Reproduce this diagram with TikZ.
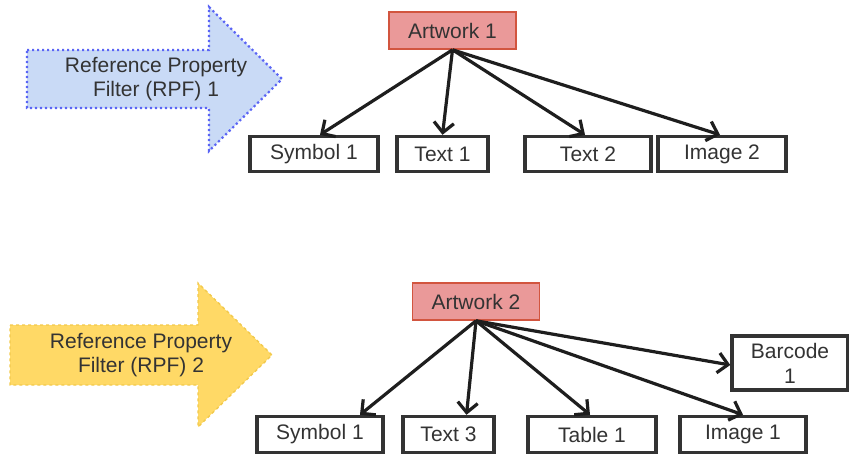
\documentclass[tikz,border=0pt]{standalone}
\usepackage{fontspec}
\setmainfont{Liberation Sans}
\usetikzlibrary{arrows.meta}
\definecolor{txt}{HTML}{333333}
\definecolor{artfill}{HTML}{EA9999}
\definecolor{artdraw}{HTML}{D2553F}
\definecolor{bluefill}{HTML}{C9DAF6}
\definecolor{bluedraw}{HTML}{5A64F5}
\definecolor{yelfill}{HTML}{FFD966}
\definecolor{yeldraw}{HTML}{F2C94C}
\definecolor{edge}{HTML}{1E1E1E}
\definecolor{boxdraw}{HTML}{333333}
\tikzset{
  lbl/.style={font=\fontsize{21}{24}\selectfont, text=txt, inner sep=0pt},
  leaf/.style={draw=boxdraw, line width=3.4pt, fill=white, minimum height=35pt, inner sep=0pt, font=\fontsize{21}{24}\selectfont, text=txt},
  art/.style={draw=artdraw, line width=1.6pt, fill=artfill, minimum width=127pt, minimum height=37pt, inner sep=0pt, font=\fontsize{21}{24}\selectfont, text=txt},
  conn/.style={draw=edge, line width=3.2pt, -{Straight Barb[length=10pt,width=20pt,line width=3.2pt]}}
}
\begin{document}
\begin{tikzpicture}[x=1pt,y=-1pt]
\useasboundingbox (0,0) rectangle (849,455);
% big arrows
\draw[fill=bluefill, draw=bluedraw, line width=2.2pt, dash pattern=on 2.2pt off 2.8pt] (27,50) -- (209,50) -- (209,7) -- (282,79) -- (209,151) -- (209,108) -- (27,108) -- cycle;
\node[lbl, align=center] (rpf1) at (156,79) {Reference Property\\Filter (RPF) 1};
\draw[fill=yelfill, draw=yeldraw, line width=1.4pt, dashed] (10,325) -- (198,325) -- (198,283) -- (272,355) -- (198,427) -- (198,385) -- (10,385) -- cycle;
\node[lbl, align=center] (rpf2) at (141,355) {Reference Property\\Filter (RPF) 2};
% row 1
\node[art] (a1) at (452.5,30.5) {Artwork 1};
\node[leaf, minimum width=128pt] (s1) at (314,154) {Symbol 1};
\node[leaf, minimum width=91pt] (t1) at (442.5,154) {Text 1};
\node[leaf, minimum width=126pt] (t2) at (588,154) {Text 2};
\node[leaf, minimum width=128pt] (i2) at (722,154) {Image 2};
\draw[conn] (a1.south) -- ([xshift=6pt]s1.north);
\draw[conn] (a1.south) -- (t1.north);
\draw[conn] (a1.south) -- ([xshift=-3pt]t2.north);
\draw[conn] (a1.south) -- ([xshift=-2pt]i2.north);
% row 2
\node[art] (a2) at (476,301.5) {Artwork 2};
\node[leaf, minimum width=126pt, minimum height=36pt] (s1b) at (320,434.5) {Symbol 1};
\node[leaf, minimum width=91pt, minimum height=36pt] (t3) at (448.5,434.5) {Text 3};
\node[leaf, minimum width=128pt, minimum height=36pt] (tb1) at (592,434.5) {Table 1};
\node[leaf, minimum width=126pt, minimum height=36pt] (i1) at (743,434.5) {Image 1};
\node[leaf, minimum width=116pt, minimum height=54pt, align=center, font=\fontsize{21}{25}\selectfont] (b1) at (790,363) {Barcode\\1};
\draw[conn] (a2.south) -- ([xshift=40pt]s1b.north);
\draw[conn] (a2.south) -- ([xshift=18pt]t3.north);
\draw[conn] (a2.south) -- ([xshift=-2pt]tb1.north);
\draw[conn] (a2.south) -- (i1.north);
\draw[conn] (a2.south) -- ([yshift=-2pt]b1.west);
\end{tikzpicture}
\end{document}
